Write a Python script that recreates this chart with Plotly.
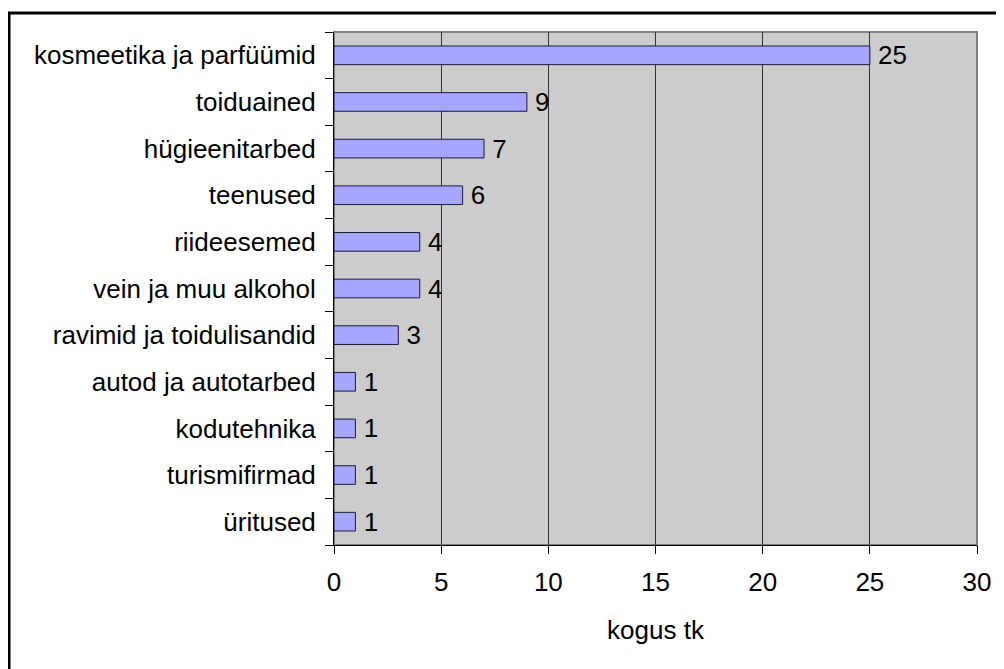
import plotly.graph_objects as go

categories = ["kosmeetika ja parfüümid", "toiduained", "hügieenitarbed", "teenused",
              "riideesemed", "vein ja muu alkohol", "ravimid ja toidulisandid",
              "autod ja autotarbed", "kodutehnika", "turismifirmad", "üritused"]
values = [25, 9, 7, 6, 4, 4, 3, 1, 1, 1, 1]
x_ticks = [0, 5, 10, 15, 20, 25, 30]
x_title = "kogus tk"

cats_r = categories[::-1]
vals_r = values[::-1]

FONT = "Liberation Sans, Arial"
FS = 26

fig = go.Figure(go.Bar(
    y=cats_r, x=vals_r, orientation="h",
    marker=dict(color="#A6A6FF", line=dict(color="#1a1a40", width=1)),
    width=0.4,
    text=["\u2009" + str(v) for v in vals_r], textposition="outside",
    textfont=dict(family=FONT, size=FS, color="black"),
    constraintext="none",
    cliponaxis=False,
))

# page body has an 8px margin, so figure coords = screen coords - 8
OFF = 8
W, H = 1004 - OFF, 669 - OFF
L, R, T, B = 334 - OFF, 977 - OFF, 32 - OFF, 545 - OFF
def px(x): return (x - OFF - L) / (R - L)
def py(y): return (B - (y - OFF)) / (B - T)

fig.update_layout(
    width=W, height=H,
    margin=dict(l=L, r=W - R, t=T, b=H - B, autoexpand=False),
    paper_bgcolor="white", plot_bgcolor="#CCCCCC",
    font=dict(family=FONT, size=FS, color="black"),
    showlegend=False,
    xaxis=dict(range=[0, 30], tickvals=x_ticks, showgrid=True, gridcolor="#333333", gridwidth=1,
               zeroline=False, showline=True, linecolor="black", linewidth=1,
               ticks="outside", ticklen=8, tickcolor="black", ticklabelstandoff=6,
               title=dict(text=x_title, standoff=24, font=dict(size=FS)),
               tickfont=dict(size=FS)),
    yaxis=dict(type="category", showgrid=False, zeroline=False, showline=True,
               linecolor="black", linewidth=1, ticks="outside", ticklen=8, tickcolor="black",
               tickson="boundaries", ticklabelstandoff=12, tickfont=dict(size=FS)),
    shapes=[
        dict(type="rect", xref="paper", yref="paper", x0=0, x1=1, y0=0, y1=1,
             line=dict(color="#808080", width=2), layer="below"),
        dict(type="rect", xref="paper", yref="paper", x0=px(9), x1=px(1012), y0=py(677), y1=py(13),
             line=dict(color="black", width=3)),
    ],
)

fig.write_html("out.html")
